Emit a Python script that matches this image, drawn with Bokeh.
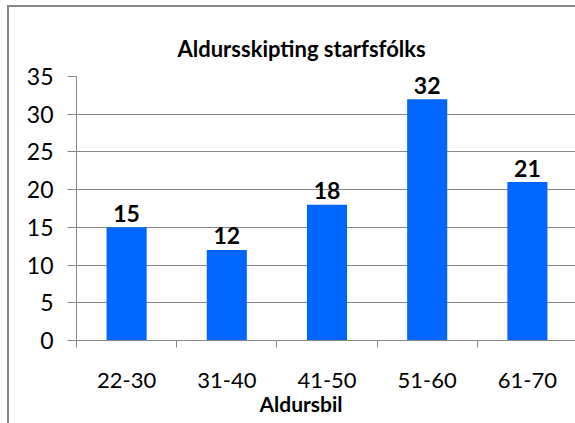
from bokeh.plotting import figure
from bokeh.models import Range1d, FixedTicker, ColumnDataSource, Title
from bokeh.core.properties import value
from bokeh.embed import file_html
from bokeh.resources import INLINE

categories = ["22-30", "31-40", "41-50", "51-60", "61-70"]
counts = [15, 12, 18, 32, 21]
y_ticks = [0, 5, 10, 15, 20, 25, 30, 35]
title_text = "Aldursskipting starfsfólks"
x_label_text = "Aldursbil"

FONT = "Lato"
GREY = "#868686"
BLUE = "#0066FF"

xs = [i + 0.5 for i in range(len(categories))]
src = ColumnDataSource(dict(x=xs, top=counts, lbl=[str(c) for c in counts]))

p = figure(width=568, height=418, output_backend="svg", toolbar_location=None,
           x_range=Range1d(0, len(categories)), y_range=Range1d(0, 35),
           min_border_left=67, min_border_right=0, min_border_top=69, min_border_bottom=85)
p.margin = (5, 0, 0, 7)
p.styles = {"border-left": "2px solid " + GREY, "border-top": "2px solid " + GREY}
p.outline_line_color = None
p.background_fill_color = "white"
p.border_fill_color = None

p.vbar(x="x", top="top", width=0.4, bottom=0, source=src, fill_color=BLUE, line_color=None)
p.text(x="x", y="top", text="lbl", source=src, text_align="center", text_baseline="alphabetic",
       y_offset=-14, text_font=value(FONT), text_font_style="bold", text_font_size="23px",
       text_color="black")

# y axis
p.yaxis.ticker = FixedTicker(ticks=y_ticks)
p.yaxis.axis_line_color = GREY
p.yaxis.major_tick_line_color = GREY
p.yaxis.major_tick_out = 9
p.yaxis.major_tick_in = 0
p.yaxis.minor_tick_line_color = None
p.yaxis.major_label_standoff = 14
p.yaxis.major_label_text_font = FONT
p.yaxis.major_label_text_font_size = "23px"
p.yaxis.major_label_text_color = "black"

# x axis
p.xaxis.ticker = FixedTicker(ticks=xs, minor_ticks=list(range(len(categories) + 1)))
p.xaxis.major_label_overrides = {x: c for x, c in zip(xs, categories)}
p.xaxis.axis_line_color = GREY
p.xaxis.major_tick_line_color = None
p.xaxis.major_tick_out = 0
p.xaxis.major_tick_in = 0
p.xaxis.minor_tick_line_color = GREY
p.xaxis.minor_tick_out = 7
p.xaxis.minor_tick_in = 0
p.xaxis.major_label_standoff = 25
p.xaxis.major_label_text_font = FONT
p.xaxis.major_label_text_font_size = "22px"
p.xaxis.major_label_text_color = "black"

p.xgrid.grid_line_color = None
p.ygrid.grid_line_color = GREY
p.ygrid.ticker = FixedTicker(ticks=y_ticks)

p.add_layout(Title(text=title_text, align="left", offset=101, standoff=30,
                   text_font=FONT, text_font_style="bold", text_font_size="22px",
                   text_color="black"), "above")
p.add_layout(Title(text=x_label_text, align="left", offset=183, standoff=0,
                   vertical_align="top",
                   text_font=FONT, text_font_style="bold", text_font_size="21px",
                   text_color="black"), "below")

open("out.html", "w").write(file_html(p, INLINE))
